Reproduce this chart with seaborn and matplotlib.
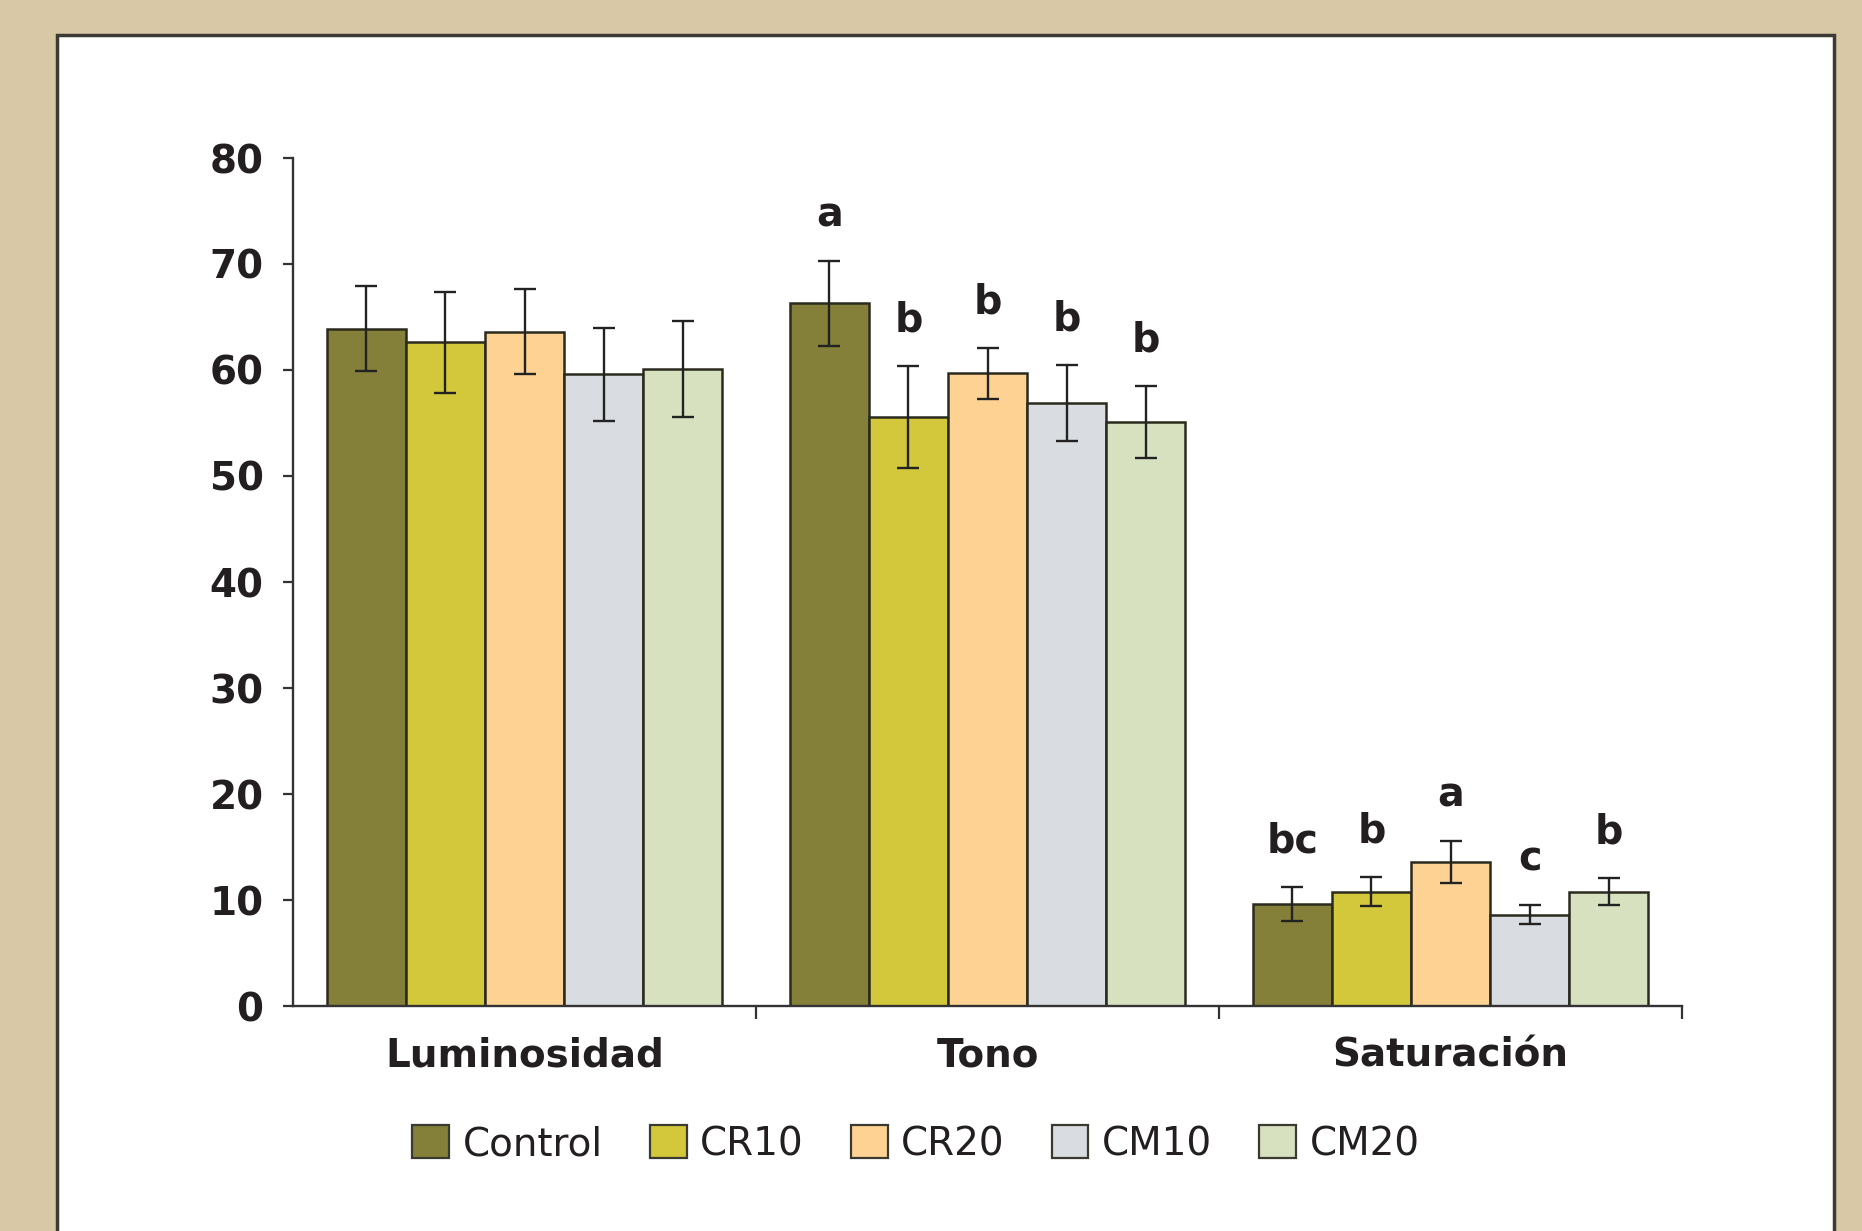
import seaborn as sns
import matplotlib.pyplot as plt
import matplotlib.patches as mpatches
import pandas as pd

# Data
categories = ["Luminosidad", "Tono", "Saturación"]
treatments = ["Control", "CR10", "CR20", "CM10", "CM20"]
colors = ["#858039", "#d3c73b", "#fdd293", "#d9dce0", "#d7e1c0"]

# means, one list per treatment (Luminosidad, Tono, Saturación)
control = [63.9, 66.3, 9.6]
cr10 = [62.6, 55.6, 10.8]
cr20 = [63.6, 59.7, 13.6]
cm10 = [59.6, 56.9, 8.6]
cm20 = [60.1, 55.1, 10.8]

# error bar half-lengths
control_err = [4.0, 4.0, 1.6]
cr10_err = [4.8, 4.8, 1.4]
cr20_err = [4.0, 2.4, 2.0]
cm10_err = [4.4, 3.6, 0.9]
cm20_err = [4.5, 3.4, 1.3]

# significance letters per treatment (Luminosidad, Tono, Saturación)
control_letters = ["", "a", "bc"]
cr10_letters = ["", "b", "b"]
cr20_letters = ["", "b", "a"]
cm10_letters = ["", "b", "c"]
cm20_letters = ["", "b", "b"]

means = [control, cr10, cr20, cm10, cm20]
errs = [control_err, cr10_err, cr20_err, cm10_err, cm20_err]
letters = [control_letters, cr10_letters, cr20_letters, cm10_letters, cm20_letters]

rows = []
for t, vals in zip(treatments, means):
    for c, v in zip(categories, vals):
        rows.append({"variable": c, "treatment": t, "value": v})
df = pd.DataFrame(rows)

sns.set_style("white")
plt.rcParams["font.family"] = ["DejaVu Sans"]
text_color = "#231f20"
line_color = "#333333"

fig = plt.figure(figsize=(18.62, 12.31), dpi=100, facecolor="#d9c8a6")

# white panel with dark border
panel = mpatches.Rectangle((57 / 1862, -0.05), (1834 - 57) / 1862, 1.05 + (1 - 35 / 1231) - 1,
                           transform=fig.transFigure, facecolor="white",
                           edgecolor="#3b3a33", linewidth=2.5, zorder=-10)
fig.patches.append(panel)

ax = fig.add_axes([293 / 1862, 1 - 1006 / 1231, (1682 - 293) / 1862, (1006 - 158) / 1231])
ax.patch.set_alpha(0)

sns.barplot(data=df, x="variable", y="value", hue="treatment",
            order=categories, hue_order=treatments, palette=colors,
            width=0.855, edgecolor="#2b2a1e", linewidth=1.8,
            errorbar=None, legend=False, saturation=1, ax=ax)

# error bars and letters
bar_containers = list(ax.containers)
for i, cont in enumerate(bar_containers):
    for j, bar in enumerate(cont):
        x = bar.get_x() + bar.get_width() / 2
        y = bar.get_height()
        ax.errorbar(x, y, yerr=errs[i][j], fmt="none", ecolor="#222222",
                    elinewidth=1.7, capsize=8, capthick=1.7, zorder=5)
        if letters[i][j]:
            ax.text(x, y + errs[i][j] + 4.3, letters[i][j], ha="center", va="center",
                    fontsize=28.5, fontweight="bold", color=text_color)

ax.set_xlim(-0.5, 2.5)
ax.set_ylim(0, 80)
ax.set_yticks(range(0, 81, 10))
ax.set_xlabel("")
ax.set_ylabel("")

sns.despine(ax=ax)
for s in ["left", "bottom"]:
    ax.spines[s].set_color(line_color)
    ax.spines[s].set_linewidth(1.7)

ax.tick_params(axis="y", left=True, direction="out", length=7.2, width=1.6, color=line_color,
               pad=14, labelsize=28, labelcolor=text_color)
for lab in ax.get_yticklabels():
    lab.set_fontweight("bold")
ax.tick_params(axis="x", which="major", length=0, pad=22, labelsize=28, labelcolor=text_color)
for lab in ax.get_xticklabels():
    lab.set_fontweight("bold")
ax.set_xticks([0.5, 1.5, 2.5], minor=True)
ax.tick_params(axis="x", which="minor", bottom=True, direction="out", length=9, width=1.6,
               color=line_color)

handles = [mpatches.Patch(facecolor=c, edgecolor="#3a3a30", linewidth=1.6, label=t)
           for c, t in zip(colors, treatments)]
fig.legend(handles=handles, loc="center", bbox_to_anchor=(916 / 1862, 1 - 1144 / 1231),
           ncol=5, frameon=False, fontsize=28, handlelength=0.95, handleheight=0.95,
           handletextpad=0.35, columnspacing=1.2, labelcolor=text_color)

fig.savefig("out.png", dpi=100, facecolor=fig.get_facecolor())
